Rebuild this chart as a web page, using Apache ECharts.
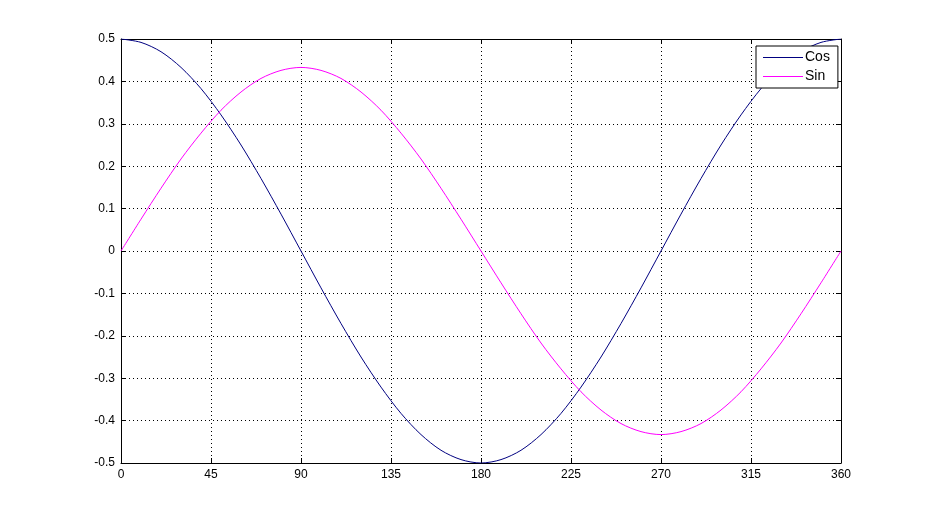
<!DOCTYPE html>
<html><head><meta charset="utf-8">
<script src="https://cdn.jsdelivr.net/npm/echarts@6/dist/echarts.min.js"></script>
<style>html,body{margin:0;padding:0;background:#fff}#c{width:930px;height:520px}</style>
</head><body><div id="c"></div>
<script>
const angles = [0,10,20,30,40,50,60,70,80,90,100,110,120,130,140,150,160,170,180,190,200,210,220,230,240,250,260,270,280,290,300,310,320,330,340,350,360];
const cosValues = [0.5,0.492,0.470,0.433,0.383,0.321,0.25,0.171,0.087,0,-0.087,-0.171,-0.25,-0.321,-0.383,-0.433,-0.470,-0.492,-0.5,-0.492,-0.470,-0.433,-0.383,-0.321,-0.25,-0.171,-0.087,0,0.087,0.171,0.25,0.321,0.383,0.433,0.470,0.492,0.5];
const sinValues = [0,0.075,0.148,0.217,0.278,0.332,0.375,0.407,0.426,0.433,0.426,0.407,0.375,0.332,0.278,0.217,0.148,0.075,0,-0.075,-0.148,-0.217,-0.278,-0.332,-0.375,-0.407,-0.426,-0.433,-0.426,-0.407,-0.375,-0.332,-0.278,-0.217,-0.148,-0.075,0];
const seriesNames = ['Cos','Sin'];
const xTicks = {min:0,max:360,interval:45};
const yTicks = {min:-0.5,max:0.5,interval:0.1};

const chart = echarts.init(document.getElementById('c'), null, {renderer:'canvas'});
const font = {fontFamily:'Liberation Sans, Arial, sans-serif', fontSize:12, color:'#000'};
const axisCommon = {
  axisLine:{show:true,onZero:false,lineStyle:{color:'#000',width:1}},
  axisTick:{show:true,inside:true,length:5,lineStyle:{color:'#000'}},
};
chart.setOption({
  animation:false,
  backgroundColor:'#fff',
  grid:{left:121,right:89,top:39,bottom:57,containLabel:false},
  legend:{
    data:seriesNames.map(n=>({name:n,icon:'rect'})), orient:'vertical', left:756, top:46,
    backgroundColor:'#fff', borderColor:'#000', borderWidth:1,
    padding:[4,8,4,7], itemGap:4, itemWidth:40, itemHeight:1,
    textStyle:Object.assign({},font,{fontSize:14,padding:[0,0,0,-3],lineHeight:15}),
  },
  xAxis:[
    Object.assign({type:'value',position:'bottom',min:xTicks.min,max:xTicks.max,interval:xTicks.interval,
      axisLabel:Object.assign({margin:6},font),
      splitLine:{show:true,lineStyle:{color:'#000',type:[1,3],width:1}}},axisCommon),
    Object.assign({type:'value',position:'top',min:xTicks.min,max:xTicks.max,interval:xTicks.interval,
      axisLabel:{show:false},splitLine:{show:false}},axisCommon)
  ],
  yAxis:[
    Object.assign({type:'value',position:'left',min:yTicks.min,max:yTicks.max,interval:yTicks.interval,
      axisLabel:Object.assign({margin:6,formatter:v=>String(Math.round(v*10)/10)},font),
      splitLine:{show:true,lineStyle:{color:'#000',type:[1,3],width:1}}},axisCommon),
    Object.assign({type:'value',position:'right',min:yTicks.min,max:yTicks.max,interval:yTicks.interval,
      axisLabel:{show:false},splitLine:{show:false}},axisCommon)
  ],
  series:[
    {name:seriesNames[0],type:'line',data:angles.map((a,i)=>[a,cosValues[i]]),smooth:0.3,showSymbol:false,symbol:'none',
      lineStyle:{color:'#000080',width:1},itemStyle:{color:'#000080'}},
    {name:seriesNames[1],type:'line',data:angles.map((a,i)=>[a,sinValues[i]]),smooth:0.3,showSymbol:false,symbol:'none',
      lineStyle:{color:'#ff00ff',width:1},itemStyle:{color:'#ff00ff'}}
  ]
});
</script></body></html>
